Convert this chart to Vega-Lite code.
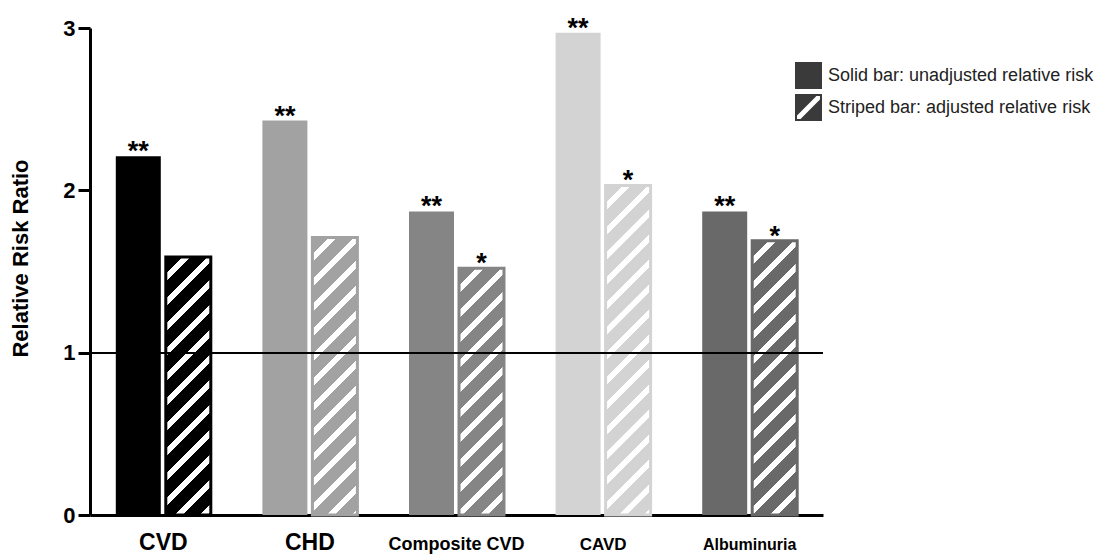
{
"$schema": "https://vega.github.io/schema/vega-lite/v6.json",
"width": 733, "height": 487,
"autosize": {"type": "none"},
"padding": {"left": 90, "top": 28, "right": 278, "bottom": 39},
"background": "white",
"config": {"view": {"stroke": null}, "font": "Liberation Sans",
  "axis": {"domainColor": "#000", "tickColor": "#000", "labelColor": "#000", "titleColor": "#000", "labelFont": "Liberation Sans", "titleFont": "Liberation Sans", "grid": false}},
"data": {"values": [
  {"cat": "CVD", "type": "Solid bar: unadjusted relative risk", "value": 2.21, "sig": "**"},
  {"cat": "CVD", "type": "Striped bar: adjusted relative risk", "value": 1.59, "sig": ""},
  {"cat": "CHD", "type": "Solid bar: unadjusted relative risk", "value": 2.43, "sig": "**"},
  {"cat": "CHD", "type": "Striped bar: adjusted relative risk", "value": 1.71, "sig": ""},
  {"cat": "Composite CVD", "type": "Solid bar: unadjusted relative risk", "value": 1.87, "sig": "**"},
  {"cat": "Composite CVD", "type": "Striped bar: adjusted relative risk", "value": 1.52, "sig": "*"},
  {"cat": "CAVD", "type": "Solid bar: unadjusted relative risk", "value": 2.97, "sig": "**"},
  {"cat": "CAVD", "type": "Striped bar: adjusted relative risk", "value": 2.03, "sig": "*"},
  {"cat": "Albuminuria", "type": "Solid bar: unadjusted relative risk", "value": 1.87, "sig": "**"},
  {"cat": "Albuminuria", "type": "Striped bar: adjusted relative risk", "value": 1.69, "sig": "*"}
]},
"layer": [
  {"transform": [{"filter": "datum.type === 'Solid bar: unadjusted relative risk'"}],
   "mark": {"type": "bar"},
   "encoding": {
     "x": {"field": "cat", "type": "nominal", "sort": ["CVD", "CHD", "Composite CVD", "CAVD", "Albuminuria"], "scale": {"paddingInner": 0.352, "paddingOuter": 0.176},
       "axis": {"title": null, "labelAngle": 0, "ticks": false, "tickSize": 0, "domainWidth": 3, "labelFontWeight": "bold", "labelLimit": 300,
         "labelFontSize": {"condition": [{"test": "datum.value === 'CVD' || datum.value === 'CHD'", "value": 23}, {"test": "datum.value === 'Composite CVD'", "value": 18}, {"test": "datum.value === 'CAVD'", "value": 17}], "value": 16},
         "labelBaseline": "alphabetic", "labelPadding": 34}},
     "xOffset": {"field": "type", "type": "nominal", "scale": {"domain": ["Solid bar: unadjusted relative risk", "Striped bar: adjusted relative risk"], "paddingInner": 0.1, "paddingOuter": 0}},
     "y": {"field": "value", "type": "quantitative", "scale": {"domain": [0, 3], "nice": false},
       "axis": {"title": "Relative Risk Ratio", "values": [0, 1, 2, 3], "format": "d", "tickSize": 12, "tickWidth": 3, "domainWidth": 3, "labelFontSize": 22, "labelFontWeight": "bold", "labelPadding": 3, "titleFontSize": 22, "titleFontWeight": "bold", "titleX": -58, "titleY": 230}},
     "fill": {"field": "cat", "type": "nominal", "scale": {"domain": ["CVD", "CHD", "Composite CVD", "CAVD", "Albuminuria"], "range": ["#000000", "#a2a2a2", "#858585", "#d3d3d3", "#696969"]}, "legend": null}
   }},
  {"transform": [{"filter": "datum.type === 'Striped bar: adjusted relative risk'"}],
   "mark": {"type": "bar", "strokeWidth": 3},
   "encoding": {
     "x": {"field": "cat", "type": "nominal", "sort": ["CVD", "CHD", "Composite CVD", "CAVD", "Albuminuria"]},
     "xOffset": {"field": "type", "type": "nominal"},
     "y": {"field": "value", "type": "quantitative"},
     "stroke": {"field": "cat", "type": "nominal", "scale": {"domain": ["CVD", "CHD", "Composite CVD", "CAVD", "Albuminuria"], "range": ["#000000", "#a2a2a2", "#858585", "#d3d3d3", "#696969"]}, "legend": null},
     "fill": {"condition": [
       {"test": "datum.cat === 'CVD'", "value": {"gradient": "linear", "x1": 0, "y1": 0, "x2": 0.2622, "y2": 1.5041, "stops": [
{"offset":0,"color":"#000000"},{"offset":0.0425,"color":"#000000"},{"offset":0.0425,"color":"#fff"},{"offset":0.0625,"color":"#fff"},
{"offset":0.0625,"color":"#000000"},{"offset":0.105,"color":"#000000"},{"offset":0.105,"color":"#fff"},{"offset":0.125,"color":"#fff"},
{"offset":0.125,"color":"#000000"},{"offset":0.1675,"color":"#000000"},{"offset":0.1675,"color":"#fff"},{"offset":0.1875,"color":"#fff"},
{"offset":0.1875,"color":"#000000"},{"offset":0.23,"color":"#000000"},{"offset":0.23,"color":"#fff"},{"offset":0.25,"color":"#fff"},
{"offset":0.25,"color":"#000000"},{"offset":0.2925,"color":"#000000"},{"offset":0.2925,"color":"#fff"},{"offset":0.3125,"color":"#fff"},
{"offset":0.3125,"color":"#000000"},{"offset":0.355,"color":"#000000"},{"offset":0.355,"color":"#fff"},{"offset":0.375,"color":"#fff"},
{"offset":0.375,"color":"#000000"},{"offset":0.4175,"color":"#000000"},{"offset":0.4175,"color":"#fff"},{"offset":0.4375,"color":"#fff"},
{"offset":0.4375,"color":"#000000"},{"offset":0.48,"color":"#000000"},{"offset":0.48,"color":"#fff"},{"offset":0.5,"color":"#fff"},
{"offset":0.5,"color":"#000000"},{"offset":0.5425,"color":"#000000"},{"offset":0.5425,"color":"#fff"},{"offset":0.5625,"color":"#fff"},
{"offset":0.5625,"color":"#000000"},{"offset":0.605,"color":"#000000"},{"offset":0.605,"color":"#fff"},{"offset":0.625,"color":"#fff"},
{"offset":0.625,"color":"#000000"},{"offset":0.6675,"color":"#000000"},{"offset":0.6675,"color":"#fff"},{"offset":0.6875,"color":"#fff"},
{"offset":0.6875,"color":"#000000"},{"offset":0.73,"color":"#000000"},{"offset":0.73,"color":"#fff"},{"offset":0.75,"color":"#fff"},
{"offset":0.75,"color":"#000000"},{"offset":0.7925,"color":"#000000"},{"offset":0.7925,"color":"#fff"},{"offset":0.8125,"color":"#fff"},
{"offset":0.8125,"color":"#000000"},{"offset":0.855,"color":"#000000"},{"offset":0.855,"color":"#fff"},{"offset":0.875,"color":"#fff"},
{"offset":0.875,"color":"#000000"},{"offset":0.9175,"color":"#000000"},{"offset":0.9175,"color":"#fff"},{"offset":0.9375,"color":"#fff"},
{"offset":0.9375,"color":"#000000"},{"offset":0.98,"color":"#000000"},{"offset":0.98,"color":"#fff"},{"offset":1,"color":"#fff"}]}},
       {"test": "datum.cat === 'CHD'", "value": {"gradient": "linear", "x1": 0, "y1": 0, "x2": 0.2276, "y2": 1.4040, "stops": [
{"offset":0,"color":"#a2a2a2"},{"offset":0.0425,"color":"#a2a2a2"},{"offset":0.0425,"color":"#fff"},{"offset":0.0625,"color":"#fff"},
{"offset":0.0625,"color":"#a2a2a2"},{"offset":0.105,"color":"#a2a2a2"},{"offset":0.105,"color":"#fff"},{"offset":0.125,"color":"#fff"},
{"offset":0.125,"color":"#a2a2a2"},{"offset":0.1675,"color":"#a2a2a2"},{"offset":0.1675,"color":"#fff"},{"offset":0.1875,"color":"#fff"},
{"offset":0.1875,"color":"#a2a2a2"},{"offset":0.23,"color":"#a2a2a2"},{"offset":0.23,"color":"#fff"},{"offset":0.25,"color":"#fff"},
{"offset":0.25,"color":"#a2a2a2"},{"offset":0.2925,"color":"#a2a2a2"},{"offset":0.2925,"color":"#fff"},{"offset":0.3125,"color":"#fff"},
{"offset":0.3125,"color":"#a2a2a2"},{"offset":0.355,"color":"#a2a2a2"},{"offset":0.355,"color":"#fff"},{"offset":0.375,"color":"#fff"},
{"offset":0.375,"color":"#a2a2a2"},{"offset":0.4175,"color":"#a2a2a2"},{"offset":0.4175,"color":"#fff"},{"offset":0.4375,"color":"#fff"},
{"offset":0.4375,"color":"#a2a2a2"},{"offset":0.48,"color":"#a2a2a2"},{"offset":0.48,"color":"#fff"},{"offset":0.5,"color":"#fff"},
{"offset":0.5,"color":"#a2a2a2"},{"offset":0.5425,"color":"#a2a2a2"},{"offset":0.5425,"color":"#fff"},{"offset":0.5625,"color":"#fff"},
{"offset":0.5625,"color":"#a2a2a2"},{"offset":0.605,"color":"#a2a2a2"},{"offset":0.605,"color":"#fff"},{"offset":0.625,"color":"#fff"},
{"offset":0.625,"color":"#a2a2a2"},{"offset":0.6675,"color":"#a2a2a2"},{"offset":0.6675,"color":"#fff"},{"offset":0.6875,"color":"#fff"},
{"offset":0.6875,"color":"#a2a2a2"},{"offset":0.73,"color":"#a2a2a2"},{"offset":0.73,"color":"#fff"},{"offset":0.75,"color":"#fff"},
{"offset":0.75,"color":"#a2a2a2"},{"offset":0.7925,"color":"#a2a2a2"},{"offset":0.7925,"color":"#fff"},{"offset":0.8125,"color":"#fff"},
{"offset":0.8125,"color":"#a2a2a2"},{"offset":0.855,"color":"#a2a2a2"},{"offset":0.855,"color":"#fff"},{"offset":0.875,"color":"#fff"},
{"offset":0.875,"color":"#a2a2a2"},{"offset":0.9175,"color":"#a2a2a2"},{"offset":0.9175,"color":"#fff"},{"offset":0.9375,"color":"#fff"},
{"offset":0.9375,"color":"#a2a2a2"},{"offset":0.98,"color":"#a2a2a2"},{"offset":0.98,"color":"#fff"},{"offset":1,"color":"#fff"}]}},
       {"test": "datum.cat === 'Composite CVD'", "value": {"gradient": "linear", "x1": 0, "y1": 0, "x2": 0.2862, "y2": 1.5692, "stops": [
{"offset":0,"color":"#858585"},{"offset":0.0425,"color":"#858585"},{"offset":0.0425,"color":"#fff"},{"offset":0.0625,"color":"#fff"},
{"offset":0.0625,"color":"#858585"},{"offset":0.105,"color":"#858585"},{"offset":0.105,"color":"#fff"},{"offset":0.125,"color":"#fff"},
{"offset":0.125,"color":"#858585"},{"offset":0.1675,"color":"#858585"},{"offset":0.1675,"color":"#fff"},{"offset":0.1875,"color":"#fff"},
{"offset":0.1875,"color":"#858585"},{"offset":0.23,"color":"#858585"},{"offset":0.23,"color":"#fff"},{"offset":0.25,"color":"#fff"},
{"offset":0.25,"color":"#858585"},{"offset":0.2925,"color":"#858585"},{"offset":0.2925,"color":"#fff"},{"offset":0.3125,"color":"#fff"},
{"offset":0.3125,"color":"#858585"},{"offset":0.355,"color":"#858585"},{"offset":0.355,"color":"#fff"},{"offset":0.375,"color":"#fff"},
{"offset":0.375,"color":"#858585"},{"offset":0.4175,"color":"#858585"},{"offset":0.4175,"color":"#fff"},{"offset":0.4375,"color":"#fff"},
{"offset":0.4375,"color":"#858585"},{"offset":0.48,"color":"#858585"},{"offset":0.48,"color":"#fff"},{"offset":0.5,"color":"#fff"},
{"offset":0.5,"color":"#858585"},{"offset":0.5425,"color":"#858585"},{"offset":0.5425,"color":"#fff"},{"offset":0.5625,"color":"#fff"},
{"offset":0.5625,"color":"#858585"},{"offset":0.605,"color":"#858585"},{"offset":0.605,"color":"#fff"},{"offset":0.625,"color":"#fff"},
{"offset":0.625,"color":"#858585"},{"offset":0.6675,"color":"#858585"},{"offset":0.6675,"color":"#fff"},{"offset":0.6875,"color":"#fff"},
{"offset":0.6875,"color":"#858585"},{"offset":0.73,"color":"#858585"},{"offset":0.73,"color":"#fff"},{"offset":0.75,"color":"#fff"},
{"offset":0.75,"color":"#858585"},{"offset":0.7925,"color":"#858585"},{"offset":0.7925,"color":"#fff"},{"offset":0.8125,"color":"#fff"},
{"offset":0.8125,"color":"#858585"},{"offset":0.855,"color":"#858585"},{"offset":0.855,"color":"#fff"},{"offset":0.875,"color":"#fff"},
{"offset":0.875,"color":"#858585"},{"offset":0.9175,"color":"#858585"},{"offset":0.9175,"color":"#fff"},{"offset":0.9375,"color":"#fff"},
{"offset":0.9375,"color":"#858585"},{"offset":0.98,"color":"#858585"},{"offset":0.98,"color":"#fff"},{"offset":1,"color":"#fff"}]}},
       {"test": "datum.cat === 'CAVD'", "value": {"gradient": "linear", "x1": 0, "y1": 0, "x2": 0.1628, "y2": 1.1917, "stops": [
{"offset":0,"color":"#d3d3d3"},{"offset":0.0425,"color":"#d3d3d3"},{"offset":0.0425,"color":"#fff"},{"offset":0.0625,"color":"#fff"},
{"offset":0.0625,"color":"#d3d3d3"},{"offset":0.105,"color":"#d3d3d3"},{"offset":0.105,"color":"#fff"},{"offset":0.125,"color":"#fff"},
{"offset":0.125,"color":"#d3d3d3"},{"offset":0.1675,"color":"#d3d3d3"},{"offset":0.1675,"color":"#fff"},{"offset":0.1875,"color":"#fff"},
{"offset":0.1875,"color":"#d3d3d3"},{"offset":0.23,"color":"#d3d3d3"},{"offset":0.23,"color":"#fff"},{"offset":0.25,"color":"#fff"},
{"offset":0.25,"color":"#d3d3d3"},{"offset":0.2925,"color":"#d3d3d3"},{"offset":0.2925,"color":"#fff"},{"offset":0.3125,"color":"#fff"},
{"offset":0.3125,"color":"#d3d3d3"},{"offset":0.355,"color":"#d3d3d3"},{"offset":0.355,"color":"#fff"},{"offset":0.375,"color":"#fff"},
{"offset":0.375,"color":"#d3d3d3"},{"offset":0.4175,"color":"#d3d3d3"},{"offset":0.4175,"color":"#fff"},{"offset":0.4375,"color":"#fff"},
{"offset":0.4375,"color":"#d3d3d3"},{"offset":0.48,"color":"#d3d3d3"},{"offset":0.48,"color":"#fff"},{"offset":0.5,"color":"#fff"},
{"offset":0.5,"color":"#d3d3d3"},{"offset":0.5425,"color":"#d3d3d3"},{"offset":0.5425,"color":"#fff"},{"offset":0.5625,"color":"#fff"},
{"offset":0.5625,"color":"#d3d3d3"},{"offset":0.605,"color":"#d3d3d3"},{"offset":0.605,"color":"#fff"},{"offset":0.625,"color":"#fff"},
{"offset":0.625,"color":"#d3d3d3"},{"offset":0.6675,"color":"#d3d3d3"},{"offset":0.6675,"color":"#fff"},{"offset":0.6875,"color":"#fff"},
{"offset":0.6875,"color":"#d3d3d3"},{"offset":0.73,"color":"#d3d3d3"},{"offset":0.73,"color":"#fff"},{"offset":0.75,"color":"#fff"},
{"offset":0.75,"color":"#d3d3d3"},{"offset":0.7925,"color":"#d3d3d3"},{"offset":0.7925,"color":"#fff"},{"offset":0.8125,"color":"#fff"},
{"offset":0.8125,"color":"#d3d3d3"},{"offset":0.855,"color":"#d3d3d3"},{"offset":0.855,"color":"#fff"},{"offset":0.875,"color":"#fff"},
{"offset":0.875,"color":"#d3d3d3"},{"offset":0.9175,"color":"#d3d3d3"},{"offset":0.9175,"color":"#fff"},{"offset":0.9375,"color":"#fff"},
{"offset":0.9375,"color":"#d3d3d3"},{"offset":0.98,"color":"#d3d3d3"},{"offset":0.98,"color":"#fff"},{"offset":1,"color":"#fff"}]}},
       {"test": "datum.cat === 'Albuminuria'", "value": {"gradient": "linear", "x1": 0, "y1": 0, "x2": 0.2330, "y2": 1.4200, "stops": [
{"offset":0,"color":"#696969"},{"offset":0.0425,"color":"#696969"},{"offset":0.0425,"color":"#fff"},{"offset":0.0625,"color":"#fff"},
{"offset":0.0625,"color":"#696969"},{"offset":0.105,"color":"#696969"},{"offset":0.105,"color":"#fff"},{"offset":0.125,"color":"#fff"},
{"offset":0.125,"color":"#696969"},{"offset":0.1675,"color":"#696969"},{"offset":0.1675,"color":"#fff"},{"offset":0.1875,"color":"#fff"},
{"offset":0.1875,"color":"#696969"},{"offset":0.23,"color":"#696969"},{"offset":0.23,"color":"#fff"},{"offset":0.25,"color":"#fff"},
{"offset":0.25,"color":"#696969"},{"offset":0.2925,"color":"#696969"},{"offset":0.2925,"color":"#fff"},{"offset":0.3125,"color":"#fff"},
{"offset":0.3125,"color":"#696969"},{"offset":0.355,"color":"#696969"},{"offset":0.355,"color":"#fff"},{"offset":0.375,"color":"#fff"},
{"offset":0.375,"color":"#696969"},{"offset":0.4175,"color":"#696969"},{"offset":0.4175,"color":"#fff"},{"offset":0.4375,"color":"#fff"},
{"offset":0.4375,"color":"#696969"},{"offset":0.48,"color":"#696969"},{"offset":0.48,"color":"#fff"},{"offset":0.5,"color":"#fff"},
{"offset":0.5,"color":"#696969"},{"offset":0.5425,"color":"#696969"},{"offset":0.5425,"color":"#fff"},{"offset":0.5625,"color":"#fff"},
{"offset":0.5625,"color":"#696969"},{"offset":0.605,"color":"#696969"},{"offset":0.605,"color":"#fff"},{"offset":0.625,"color":"#fff"},
{"offset":0.625,"color":"#696969"},{"offset":0.6675,"color":"#696969"},{"offset":0.6675,"color":"#fff"},{"offset":0.6875,"color":"#fff"},
{"offset":0.6875,"color":"#696969"},{"offset":0.73,"color":"#696969"},{"offset":0.73,"color":"#fff"},{"offset":0.75,"color":"#fff"},
{"offset":0.75,"color":"#696969"},{"offset":0.7925,"color":"#696969"},{"offset":0.7925,"color":"#fff"},{"offset":0.8125,"color":"#fff"},
{"offset":0.8125,"color":"#696969"},{"offset":0.855,"color":"#696969"},{"offset":0.855,"color":"#fff"},{"offset":0.875,"color":"#fff"},
{"offset":0.875,"color":"#696969"},{"offset":0.9175,"color":"#696969"},{"offset":0.9175,"color":"#fff"},{"offset":0.9375,"color":"#fff"},
{"offset":0.9375,"color":"#696969"},{"offset":0.98,"color":"#696969"},{"offset":0.98,"color":"#fff"},{"offset":1,"color":"#fff"}]}}
     ], "value": "#888888"}
   }},
  {"mark": {"type": "text", "fontSize": 27, "fontWeight": "bold", "dy": 4, "baseline": "alphabetic", "align": "center", "font": "Liberation Sans", "color": "#000"},
   "encoding": {
     "x": {"field": "cat", "type": "nominal", "sort": ["CVD", "CHD", "Composite CVD", "CAVD", "Albuminuria"]},
     "xOffset": {"field": "type", "type": "nominal"},
     "y": {"field": "value", "type": "quantitative"},
     "text": {"field": "sig"}
   }},
  {"mark": {"type": "rule", "color": "#000", "strokeWidth": 1.5},
   "encoding": {"y": {"datum": 1}}},
  {"mark": {"type": "point", "filled": true, "opacity": 0, "color": "#3a3a3a"},
   "encoding": {
     "x": {"field": "cat", "type": "nominal", "sort": ["CVD", "CHD", "Composite CVD", "CAVD", "Albuminuria"]},
     "xOffset": {"field": "type", "type": "nominal"},
     "y": {"field": "value", "type": "quantitative"},
     "shape": {"field": "type", "type": "nominal",
       "scale": {"domain": ["Solid bar: unadjusted relative risk", "Striped bar: adjusted relative risk"],
         "range": ["square", "M-1,-1L1,-1L1,1L-1,1ZM-0.85,0.85L-0.59,0.85L0.85,-0.59L0.85,-0.85L0.59,-0.85L-0.85,0.59Z"]},
       "legend": {"title": null, "orient": "none", "legendX": 705, "legendY": 34, "symbolSize": 729, "symbolStrokeWidth": 0, "symbolOpacity": 1, "symbolFillColor": "#3a3a3a",
         "labelFont": "Liberation Sans", "labelFontSize": 18, "labelColor": "#222", "labelOffset": 6, "labelLimit": 400, "rowPadding": 5, "padding": 0}}
   }}
]
}
